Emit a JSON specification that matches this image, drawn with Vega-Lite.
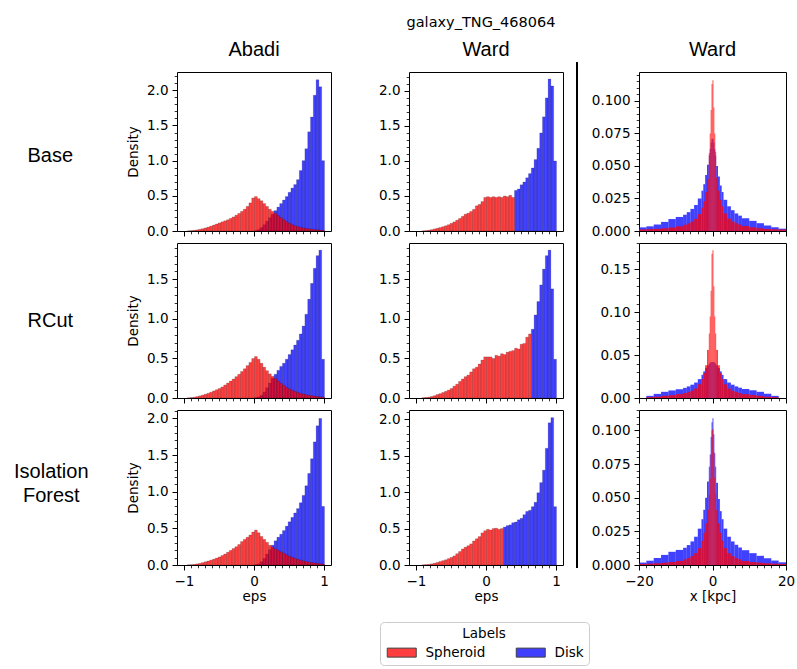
{
  "$schema": "https://vega.github.io/schema/vega-lite/v6.json",
  "background": "white",
  "padding": {"left": 13, "top": 15, "right": 0, "bottom": 0},
  "title": {"text": "galaxy_TNG_468064", "font": "DejaVu Sans", "fontSize": 14.5, "fontWeight": "normal", "color": "black", "anchor": "start", "align": "center", "frame": "group", "dx": 304, "offset": 9},
  "config": {
    "view": {"stroke": "black", "strokeWidth": 1},
    "axis": {"grid": false, "domain": false, "tickColor": "black", "tickSize": 5, "tickWidth": 1, "labelFont": "DejaVu Sans", "labelFontSize": 13.5, "labelColor": "black", "labelPadding": 4, "titleFont": "DejaVu Sans", "titleFontSize": 13.5, "titleFontWeight": "normal", "titleColor": "black", "labelFlush": false, "labelOverlap": false},
    "legend": {"orient": "none", "legendX": 203, "legendY": 550, "direction": "horizontal", "titleFont": "DejaVu Sans", "titleFontSize": 13.5, "titleFontWeight": "normal", "titleColor": "black", "titleAnchor": "middle", "titlePadding": 5, "labelFont": "DejaVu Sans", "labelFontSize": 13.5, "labelColor": "black", "labelOffset": 17, "symbolType": "M-3.22,-1H3.22V1H-3.22Z", "symbolSize": 81, "symbolOffset": 10, "symbolStrokeColor": "black", "symbolStrokeWidth": 1, "symbolOpacity": 0.75, "columnPadding": 28, "padding": 5, "strokeColor": "#cccccc", "fillColor": "white", "cornerRadius": 4}
  },
  "datasets": {
    "A1": [
      {"l":"Disk","e":0,"d":0.005},{"l":"Disk","e":0.04,"d":0.02},{"l":"Disk","e":0.08,"d":0.05},{"l":"Disk","e":0.12,"d":0.09},{"l":"Disk","e":0.16,"d":0.14},{"l":"Disk","e":0.2,"d":0.19},{"l":"Disk","e":0.24,"d":0.24},{"l":"Disk","e":0.28,"d":0.29},{"l":"Disk","e":0.32,"d":0.34},{"l":"Disk","e":0.36,"d":0.39},{"l":"Disk","e":0.4,"d":0.44},{"l":"Disk","e":0.44,"d":0.49},{"l":"Disk","e":0.48,"d":0.55},{"l":"Disk","e":0.52,"d":0.61},{"l":"Disk","e":0.56,"d":0.66},{"l":"Disk","e":0.6,"d":0.73},{"l":"Disk","e":0.64,"d":0.86},{"l":"Disk","e":0.68,"d":1.0},{"l":"Disk","e":0.72,"d":1.17},{"l":"Disk","e":0.76,"d":1.41},{"l":"Disk","e":0.8,"d":1.62},{"l":"Disk","e":0.84,"d":1.93},{"l":"Disk","e":0.88,"d":2.15},{"l":"Disk","e":0.92,"d":2.05},{"l":"Disk","e":0.96,"d":1.0},
      {"l":"Spheroid","e":-0.96,"d":0.003},{"l":"Spheroid","e":-0.92,"d":0.006},{"l":"Spheroid","e":-0.88,"d":0.01},{"l":"Spheroid","e":-0.84,"d":0.016},{"l":"Spheroid","e":-0.8,"d":0.024},{"l":"Spheroid","e":-0.76,"d":0.033},{"l":"Spheroid","e":-0.72,"d":0.044},{"l":"Spheroid","e":-0.68,"d":0.056},{"l":"Spheroid","e":-0.64,"d":0.07},{"l":"Spheroid","e":-0.6,"d":0.085},{"l":"Spheroid","e":-0.56,"d":0.1},{"l":"Spheroid","e":-0.52,"d":0.115},{"l":"Spheroid","e":-0.48,"d":0.13},{"l":"Spheroid","e":-0.44,"d":0.145},{"l":"Spheroid","e":-0.4,"d":0.16},{"l":"Spheroid","e":-0.36,"d":0.18},{"l":"Spheroid","e":-0.32,"d":0.2},{"l":"Spheroid","e":-0.28,"d":0.225},{"l":"Spheroid","e":-0.24,"d":0.25},{"l":"Spheroid","e":-0.2,"d":0.28},{"l":"Spheroid","e":-0.16,"d":0.31},{"l":"Spheroid","e":-0.12,"d":0.35},{"l":"Spheroid","e":-0.08,"d":0.4},{"l":"Spheroid","e":-0.04,"d":0.47},{"l":"Spheroid","e":0,"d":0.49},{"l":"Spheroid","e":0.04,"d":0.46},{"l":"Spheroid","e":0.08,"d":0.43},{"l":"Spheroid","e":0.12,"d":0.39},{"l":"Spheroid","e":0.16,"d":0.35},{"l":"Spheroid","e":0.2,"d":0.31},{"l":"Spheroid","e":0.24,"d":0.28},{"l":"Spheroid","e":0.28,"d":0.25},{"l":"Spheroid","e":0.32,"d":0.22},{"l":"Spheroid","e":0.36,"d":0.19},{"l":"Spheroid","e":0.4,"d":0.16},{"l":"Spheroid","e":0.44,"d":0.135},{"l":"Spheroid","e":0.48,"d":0.11},{"l":"Spheroid","e":0.52,"d":0.09},{"l":"Spheroid","e":0.56,"d":0.075},{"l":"Spheroid","e":0.6,"d":0.062},{"l":"Spheroid","e":0.64,"d":0.052},{"l":"Spheroid","e":0.68,"d":0.044},{"l":"Spheroid","e":0.72,"d":0.037},{"l":"Spheroid","e":0.76,"d":0.031},{"l":"Spheroid","e":0.8,"d":0.026},{"l":"Spheroid","e":0.84,"d":0.021},{"l":"Spheroid","e":0.88,"d":0.017},{"l":"Spheroid","e":0.92,"d":0.013},{"l":"Spheroid","e":0.96,"d":0.008}
    ],
    "A2": [
      {"l":"Disk","e":0,"d":0.005},{"l":"Disk","e":0.04,"d":0.015},{"l":"Disk","e":0.08,"d":0.035},{"l":"Disk","e":0.12,"d":0.075},{"l":"Disk","e":0.16,"d":0.13},{"l":"Disk","e":0.2,"d":0.19},{"l":"Disk","e":0.24,"d":0.25},{"l":"Disk","e":0.28,"d":0.3},{"l":"Disk","e":0.32,"d":0.35},{"l":"Disk","e":0.36,"d":0.4},{"l":"Disk","e":0.4,"d":0.44},{"l":"Disk","e":0.44,"d":0.49},{"l":"Disk","e":0.48,"d":0.55},{"l":"Disk","e":0.52,"d":0.61},{"l":"Disk","e":0.56,"d":0.67},{"l":"Disk","e":0.6,"d":0.73},{"l":"Disk","e":0.64,"d":0.81},{"l":"Disk","e":0.68,"d":0.91},{"l":"Disk","e":0.72,"d":1.06},{"l":"Disk","e":0.76,"d":1.25},{"l":"Disk","e":0.8,"d":1.45},{"l":"Disk","e":0.84,"d":1.64},{"l":"Disk","e":0.88,"d":1.8},{"l":"Disk","e":0.92,"d":1.87},{"l":"Disk","e":0.96,"d":0.49},
      {"l":"Spheroid","e":-0.96,"d":0.003},{"l":"Spheroid","e":-0.92,"d":0.006},{"l":"Spheroid","e":-0.88,"d":0.01},{"l":"Spheroid","e":-0.84,"d":0.018},{"l":"Spheroid","e":-0.8,"d":0.027},{"l":"Spheroid","e":-0.76,"d":0.037},{"l":"Spheroid","e":-0.72,"d":0.048},{"l":"Spheroid","e":-0.68,"d":0.06},{"l":"Spheroid","e":-0.64,"d":0.074},{"l":"Spheroid","e":-0.6,"d":0.09},{"l":"Spheroid","e":-0.56,"d":0.105},{"l":"Spheroid","e":-0.52,"d":0.12},{"l":"Spheroid","e":-0.48,"d":0.14},{"l":"Spheroid","e":-0.44,"d":0.165},{"l":"Spheroid","e":-0.4,"d":0.19},{"l":"Spheroid","e":-0.36,"d":0.215},{"l":"Spheroid","e":-0.32,"d":0.24},{"l":"Spheroid","e":-0.28,"d":0.27},{"l":"Spheroid","e":-0.24,"d":0.3},{"l":"Spheroid","e":-0.2,"d":0.335},{"l":"Spheroid","e":-0.16,"d":0.37},{"l":"Spheroid","e":-0.12,"d":0.41},{"l":"Spheroid","e":-0.08,"d":0.45},{"l":"Spheroid","e":-0.04,"d":0.5},{"l":"Spheroid","e":0,"d":0.525},{"l":"Spheroid","e":0.04,"d":0.49},{"l":"Spheroid","e":0.08,"d":0.44},{"l":"Spheroid","e":0.12,"d":0.39},{"l":"Spheroid","e":0.16,"d":0.345},{"l":"Spheroid","e":0.2,"d":0.305},{"l":"Spheroid","e":0.24,"d":0.275},{"l":"Spheroid","e":0.28,"d":0.245},{"l":"Spheroid","e":0.32,"d":0.215},{"l":"Spheroid","e":0.36,"d":0.185},{"l":"Spheroid","e":0.4,"d":0.16},{"l":"Spheroid","e":0.44,"d":0.135},{"l":"Spheroid","e":0.48,"d":0.115},{"l":"Spheroid","e":0.52,"d":0.098},{"l":"Spheroid","e":0.56,"d":0.083},{"l":"Spheroid","e":0.6,"d":0.07},{"l":"Spheroid","e":0.64,"d":0.06},{"l":"Spheroid","e":0.68,"d":0.05},{"l":"Spheroid","e":0.72,"d":0.042},{"l":"Spheroid","e":0.76,"d":0.035},{"l":"Spheroid","e":0.8,"d":0.029},{"l":"Spheroid","e":0.84,"d":0.024},{"l":"Spheroid","e":0.88,"d":0.019},{"l":"Spheroid","e":0.92,"d":0.015},{"l":"Spheroid","e":0.96,"d":0.01}
    ],
    "A3": [
      {"l":"Disk","e":0,"d":0.005},{"l":"Disk","e":0.04,"d":0.015},{"l":"Disk","e":0.08,"d":0.045},{"l":"Disk","e":0.12,"d":0.09},{"l":"Disk","e":0.16,"d":0.15},{"l":"Disk","e":0.2,"d":0.21},{"l":"Disk","e":0.24,"d":0.27},{"l":"Disk","e":0.28,"d":0.33},{"l":"Disk","e":0.32,"d":0.38},{"l":"Disk","e":0.36,"d":0.42},{"l":"Disk","e":0.4,"d":0.47},{"l":"Disk","e":0.44,"d":0.53},{"l":"Disk","e":0.48,"d":0.59},{"l":"Disk","e":0.52,"d":0.65},{"l":"Disk","e":0.56,"d":0.71},{"l":"Disk","e":0.6,"d":0.77},{"l":"Disk","e":0.64,"d":0.85},{"l":"Disk","e":0.68,"d":0.95},{"l":"Disk","e":0.72,"d":1.08},{"l":"Disk","e":0.76,"d":1.25},{"l":"Disk","e":0.8,"d":1.45},{"l":"Disk","e":0.84,"d":1.68},{"l":"Disk","e":0.88,"d":1.9},{"l":"Disk","e":0.92,"d":2.0},{"l":"Disk","e":0.96,"d":0.8},
      {"l":"Spheroid","e":-0.96,"d":0.003},{"l":"Spheroid","e":-0.92,"d":0.005},{"l":"Spheroid","e":-0.88,"d":0.009},{"l":"Spheroid","e":-0.84,"d":0.015},{"l":"Spheroid","e":-0.8,"d":0.022},{"l":"Spheroid","e":-0.76,"d":0.032},{"l":"Spheroid","e":-0.72,"d":0.044},{"l":"Spheroid","e":-0.68,"d":0.055},{"l":"Spheroid","e":-0.64,"d":0.067},{"l":"Spheroid","e":-0.6,"d":0.08},{"l":"Spheroid","e":-0.56,"d":0.095},{"l":"Spheroid","e":-0.52,"d":0.11},{"l":"Spheroid","e":-0.48,"d":0.13},{"l":"Spheroid","e":-0.44,"d":0.15},{"l":"Spheroid","e":-0.4,"d":0.175},{"l":"Spheroid","e":-0.36,"d":0.2},{"l":"Spheroid","e":-0.32,"d":0.225},{"l":"Spheroid","e":-0.28,"d":0.25},{"l":"Spheroid","e":-0.24,"d":0.28},{"l":"Spheroid","e":-0.2,"d":0.32},{"l":"Spheroid","e":-0.16,"d":0.35},{"l":"Spheroid","e":-0.12,"d":0.38},{"l":"Spheroid","e":-0.08,"d":0.41},{"l":"Spheroid","e":-0.04,"d":0.45},{"l":"Spheroid","e":0,"d":0.477},{"l":"Spheroid","e":0.04,"d":0.44},{"l":"Spheroid","e":0.08,"d":0.39},{"l":"Spheroid","e":0.12,"d":0.35},{"l":"Spheroid","e":0.16,"d":0.31},{"l":"Spheroid","e":0.2,"d":0.27},{"l":"Spheroid","e":0.24,"d":0.245},{"l":"Spheroid","e":0.28,"d":0.22},{"l":"Spheroid","e":0.32,"d":0.2},{"l":"Spheroid","e":0.36,"d":0.18},{"l":"Spheroid","e":0.4,"d":0.16},{"l":"Spheroid","e":0.44,"d":0.14},{"l":"Spheroid","e":0.48,"d":0.12},{"l":"Spheroid","e":0.52,"d":0.105},{"l":"Spheroid","e":0.56,"d":0.09},{"l":"Spheroid","e":0.6,"d":0.077},{"l":"Spheroid","e":0.64,"d":0.066},{"l":"Spheroid","e":0.68,"d":0.056},{"l":"Spheroid","e":0.72,"d":0.047},{"l":"Spheroid","e":0.76,"d":0.04},{"l":"Spheroid","e":0.8,"d":0.034},{"l":"Spheroid","e":0.84,"d":0.028},{"l":"Spheroid","e":0.88,"d":0.023},{"l":"Spheroid","e":0.92,"d":0.018},{"l":"Spheroid","e":0.96,"d":0.012}
    ],
    "W1": [
      {"l":"Disk","e":0.4,"d":0.58},{"l":"Disk","e":0.44,"d":0.6},{"l":"Disk","e":0.48,"d":0.66},{"l":"Disk","e":0.52,"d":0.7},{"l":"Disk","e":0.56,"d":0.76},{"l":"Disk","e":0.6,"d":0.82},{"l":"Disk","e":0.64,"d":0.9},{"l":"Disk","e":0.68,"d":1.02},{"l":"Disk","e":0.72,"d":1.18},{"l":"Disk","e":0.76,"d":1.4},{"l":"Disk","e":0.8,"d":1.63},{"l":"Disk","e":0.84,"d":1.9},{"l":"Disk","e":0.88,"d":2.17},{"l":"Disk","e":0.92,"d":2.07},{"l":"Disk","e":0.96,"d":1.0},
      {"l":"Spheroid","e":-0.92,"d":0.003},{"l":"Spheroid","e":-0.88,"d":0.006},{"l":"Spheroid","e":-0.84,"d":0.012},{"l":"Spheroid","e":-0.8,"d":0.02},{"l":"Spheroid","e":-0.76,"d":0.03},{"l":"Spheroid","e":-0.72,"d":0.04},{"l":"Spheroid","e":-0.68,"d":0.05},{"l":"Spheroid","e":-0.64,"d":0.062},{"l":"Spheroid","e":-0.6,"d":0.075},{"l":"Spheroid","e":-0.56,"d":0.09},{"l":"Spheroid","e":-0.52,"d":0.11},{"l":"Spheroid","e":-0.48,"d":0.13},{"l":"Spheroid","e":-0.44,"d":0.155},{"l":"Spheroid","e":-0.4,"d":0.18},{"l":"Spheroid","e":-0.36,"d":0.21},{"l":"Spheroid","e":-0.32,"d":0.24},{"l":"Spheroid","e":-0.28,"d":0.255},{"l":"Spheroid","e":-0.24,"d":0.28},{"l":"Spheroid","e":-0.2,"d":0.31},{"l":"Spheroid","e":-0.16,"d":0.36},{"l":"Spheroid","e":-0.12,"d":0.38},{"l":"Spheroid","e":-0.08,"d":0.42},{"l":"Spheroid","e":-0.04,"d":0.48},{"l":"Spheroid","e":0,"d":0.49},{"l":"Spheroid","e":0.04,"d":0.48},{"l":"Spheroid","e":0.08,"d":0.49},{"l":"Spheroid","e":0.12,"d":0.48},{"l":"Spheroid","e":0.16,"d":0.49},{"l":"Spheroid","e":0.2,"d":0.48},{"l":"Spheroid","e":0.24,"d":0.5},{"l":"Spheroid","e":0.28,"d":0.49},{"l":"Spheroid","e":0.32,"d":0.51},{"l":"Spheroid","e":0.36,"d":0.48}
    ],
    "W2": [
      {"l":"Disk","e":0.64,"d":0.87},{"l":"Disk","e":0.68,"d":1.05},{"l":"Disk","e":0.72,"d":1.22},{"l":"Disk","e":0.76,"d":1.43},{"l":"Disk","e":0.8,"d":1.63},{"l":"Disk","e":0.84,"d":1.8},{"l":"Disk","e":0.88,"d":1.87},{"l":"Disk","e":0.92,"d":1.38},{"l":"Disk","e":0.96,"d":0.49},
      {"l":"Spheroid","e":-0.92,"d":0.004},{"l":"Spheroid","e":-0.88,"d":0.008},{"l":"Spheroid","e":-0.84,"d":0.012},{"l":"Spheroid","e":-0.8,"d":0.02},{"l":"Spheroid","e":-0.76,"d":0.03},{"l":"Spheroid","e":-0.72,"d":0.045},{"l":"Spheroid","e":-0.68,"d":0.055},{"l":"Spheroid","e":-0.64,"d":0.07},{"l":"Spheroid","e":-0.6,"d":0.085},{"l":"Spheroid","e":-0.56,"d":0.1},{"l":"Spheroid","e":-0.52,"d":0.12},{"l":"Spheroid","e":-0.48,"d":0.15},{"l":"Spheroid","e":-0.44,"d":0.175},{"l":"Spheroid","e":-0.4,"d":0.21},{"l":"Spheroid","e":-0.36,"d":0.24},{"l":"Spheroid","e":-0.32,"d":0.27},{"l":"Spheroid","e":-0.28,"d":0.29},{"l":"Spheroid","e":-0.24,"d":0.33},{"l":"Spheroid","e":-0.2,"d":0.37},{"l":"Spheroid","e":-0.16,"d":0.39},{"l":"Spheroid","e":-0.12,"d":0.43},{"l":"Spheroid","e":-0.08,"d":0.48},{"l":"Spheroid","e":-0.04,"d":0.52},{"l":"Spheroid","e":0,"d":0.52},{"l":"Spheroid","e":0.04,"d":0.52},{"l":"Spheroid","e":0.08,"d":0.5},{"l":"Spheroid","e":0.12,"d":0.54},{"l":"Spheroid","e":0.16,"d":0.53},{"l":"Spheroid","e":0.2,"d":0.56},{"l":"Spheroid","e":0.24,"d":0.55},{"l":"Spheroid","e":0.28,"d":0.58},{"l":"Spheroid","e":0.32,"d":0.59},{"l":"Spheroid","e":0.36,"d":0.6},{"l":"Spheroid","e":0.4,"d":0.63},{"l":"Spheroid","e":0.44,"d":0.62},{"l":"Spheroid","e":0.48,"d":0.68},{"l":"Spheroid","e":0.52,"d":0.69},{"l":"Spheroid","e":0.56,"d":0.77},{"l":"Spheroid","e":0.6,"d":0.81}
    ],
    "W3": [
      {"l":"Disk","e":0.24,"d":0.52},{"l":"Disk","e":0.28,"d":0.54},{"l":"Disk","e":0.32,"d":0.55},{"l":"Disk","e":0.36,"d":0.58},{"l":"Disk","e":0.4,"d":0.59},{"l":"Disk","e":0.44,"d":0.62},{"l":"Disk","e":0.48,"d":0.64},{"l":"Disk","e":0.52,"d":0.69},{"l":"Disk","e":0.56,"d":0.735},{"l":"Disk","e":0.6,"d":0.75},{"l":"Disk","e":0.64,"d":0.8},{"l":"Disk","e":0.68,"d":0.86},{"l":"Disk","e":0.72,"d":0.99},{"l":"Disk","e":0.76,"d":1.13},{"l":"Disk","e":0.8,"d":1.3},{"l":"Disk","e":0.84,"d":1.6},{"l":"Disk","e":0.88,"d":1.95},{"l":"Disk","e":0.92,"d":2.02},{"l":"Disk","e":0.96,"d":0.8},
      {"l":"Spheroid","e":-0.92,"d":0.003},{"l":"Spheroid","e":-0.88,"d":0.006},{"l":"Spheroid","e":-0.84,"d":0.01},{"l":"Spheroid","e":-0.8,"d":0.016},{"l":"Spheroid","e":-0.76,"d":0.025},{"l":"Spheroid","e":-0.72,"d":0.036},{"l":"Spheroid","e":-0.68,"d":0.048},{"l":"Spheroid","e":-0.64,"d":0.06},{"l":"Spheroid","e":-0.6,"d":0.072},{"l":"Spheroid","e":-0.56,"d":0.088},{"l":"Spheroid","e":-0.52,"d":0.105},{"l":"Spheroid","e":-0.48,"d":0.125},{"l":"Spheroid","e":-0.44,"d":0.155},{"l":"Spheroid","e":-0.4,"d":0.185},{"l":"Spheroid","e":-0.36,"d":0.22},{"l":"Spheroid","e":-0.32,"d":0.245},{"l":"Spheroid","e":-0.28,"d":0.265},{"l":"Spheroid","e":-0.24,"d":0.29},{"l":"Spheroid","e":-0.2,"d":0.33},{"l":"Spheroid","e":-0.16,"d":0.36},{"l":"Spheroid","e":-0.12,"d":0.39},{"l":"Spheroid","e":-0.08,"d":0.44},{"l":"Spheroid","e":-0.04,"d":0.47},{"l":"Spheroid","e":0,"d":0.49},{"l":"Spheroid","e":0.04,"d":0.48},{"l":"Spheroid","e":0.08,"d":0.5},{"l":"Spheroid","e":0.12,"d":0.505},{"l":"Spheroid","e":0.16,"d":0.49},{"l":"Spheroid","e":0.2,"d":0.5}
    ],
    "X1": [
      {"l":"Disk","a":-20,"b":-18,"d":0.0028},{"l":"Disk","a":-18,"b":-16,"d":0.0036},{"l":"Disk","a":-16,"b":-14,"d":0.005},{"l":"Disk","a":-14,"b":-12,"d":0.007},{"l":"Disk","a":-12,"b":-10,"d":0.0092},{"l":"Disk","a":-10,"b":-8,"d":0.0108},{"l":"Disk","a":-8,"b":-7,"d":0.0125},{"l":"Disk","a":-7,"b":-6,"d":0.0145},{"l":"Disk","a":-6,"b":-5,"d":0.017},{"l":"Disk","a":-5,"b":-4,"d":0.02},{"l":"Disk","a":-4,"b":-3,"d":0.025},{"l":"Disk","a":-3,"b":-2.5,"d":0.031},{"l":"Disk","a":-2.5,"b":-2,"d":0.036},{"l":"Disk","a":-2,"b":-1.5,"d":0.043},{"l":"Disk","a":-1.5,"b":-1,"d":0.051},{"l":"Disk","a":-1,"b":-0.75,"d":0.058},{"l":"Disk","a":-0.75,"b":-0.5,"d":0.063},{"l":"Disk","a":-0.5,"b":-0.25,"d":0.068},{"l":"Disk","a":-0.25,"b":0,"d":0.071},{"l":"Disk","a":0,"b":0.25,"d":0.071},{"l":"Disk","a":0.25,"b":0.5,"d":0.068},{"l":"Disk","a":0.5,"b":0.75,"d":0.063},{"l":"Disk","a":0.75,"b":1,"d":0.058},{"l":"Disk","a":1,"b":1.5,"d":0.05},{"l":"Disk","a":1.5,"b":2,"d":0.042},{"l":"Disk","a":2,"b":2.5,"d":0.035},{"l":"Disk","a":2.5,"b":3,"d":0.03},{"l":"Disk","a":3,"b":4,"d":0.024},{"l":"Disk","a":4,"b":5,"d":0.019},{"l":"Disk","a":5,"b":6,"d":0.016},{"l":"Disk","a":6,"b":7,"d":0.0135},{"l":"Disk","a":7,"b":8,"d":0.0118},{"l":"Disk","a":8,"b":10,"d":0.0098},{"l":"Disk","a":10,"b":12,"d":0.0078},{"l":"Disk","a":12,"b":14,"d":0.006},{"l":"Disk","a":14,"b":16,"d":0.0043},{"l":"Disk","a":16,"b":18,"d":0.0029},{"l":"Disk","a":18,"b":20,"d":0.0018},
      {"l":"Spheroid","a":-20,"b":-18,"d":0.0012},{"l":"Spheroid","a":-18,"b":-16,"d":0.0014},{"l":"Spheroid","a":-16,"b":-14,"d":0.0017},{"l":"Spheroid","a":-14,"b":-12,"d":0.0021},{"l":"Spheroid","a":-12,"b":-10,"d":0.0027},{"l":"Spheroid","a":-10,"b":-8,"d":0.0036},{"l":"Spheroid","a":-8,"b":-7,"d":0.0048},{"l":"Spheroid","a":-7,"b":-6,"d":0.0058},{"l":"Spheroid","a":-6,"b":-5,"d":0.0072},{"l":"Spheroid","a":-5,"b":-4,"d":0.0093},{"l":"Spheroid","a":-4,"b":-3,"d":0.013},{"l":"Spheroid","a":-3,"b":-2.5,"d":0.018},{"l":"Spheroid","a":-2.5,"b":-2,"d":0.023},{"l":"Spheroid","a":-2,"b":-1.5,"d":0.03},{"l":"Spheroid","a":-1.5,"b":-1,"d":0.04},{"l":"Spheroid","a":-1,"b":-0.75,"d":0.06},{"l":"Spheroid","a":-0.75,"b":-0.5,"d":0.075},{"l":"Spheroid","a":-0.5,"b":-0.25,"d":0.093},{"l":"Spheroid","a":-0.25,"b":0,"d":0.113},{"l":"Spheroid","a":0,"b":0.25,"d":0.116},{"l":"Spheroid","a":0.25,"b":0.5,"d":0.095},{"l":"Spheroid","a":0.5,"b":0.75,"d":0.075},{"l":"Spheroid","a":0.75,"b":1,"d":0.061},{"l":"Spheroid","a":1,"b":1.5,"d":0.041},{"l":"Spheroid","a":1.5,"b":2,"d":0.031},{"l":"Spheroid","a":2,"b":2.5,"d":0.024},{"l":"Spheroid","a":2.5,"b":3,"d":0.019},{"l":"Spheroid","a":3,"b":4,"d":0.0135},{"l":"Spheroid","a":4,"b":5,"d":0.0095},{"l":"Spheroid","a":5,"b":6,"d":0.0073},{"l":"Spheroid","a":6,"b":7,"d":0.006},{"l":"Spheroid","a":7,"b":8,"d":0.005},{"l":"Spheroid","a":8,"b":10,"d":0.0038},{"l":"Spheroid","a":10,"b":12,"d":0.0028},{"l":"Spheroid","a":12,"b":14,"d":0.0021},{"l":"Spheroid","a":14,"b":16,"d":0.0016},{"l":"Spheroid","a":16,"b":18,"d":0.0013},{"l":"Spheroid","a":18,"b":20,"d":0.0011}
    ],
    "X2": [
      {"l":"Disk","a":-18,"b":-16,"d":0.0025},{"l":"Disk","a":-16,"b":-14,"d":0.0048},{"l":"Disk","a":-14,"b":-12,"d":0.0072},{"l":"Disk","a":-12,"b":-10,"d":0.0088},{"l":"Disk","a":-10,"b":-8,"d":0.0102},{"l":"Disk","a":-8,"b":-7,"d":0.0118},{"l":"Disk","a":-7,"b":-6,"d":0.0135},{"l":"Disk","a":-6,"b":-5,"d":0.0155},{"l":"Disk","a":-5,"b":-4,"d":0.018},{"l":"Disk","a":-4,"b":-3,"d":0.022},{"l":"Disk","a":-3,"b":-2.5,"d":0.027},{"l":"Disk","a":-2.5,"b":-2,"d":0.031},{"l":"Disk","a":-2,"b":-1.5,"d":0.035},{"l":"Disk","a":-1.5,"b":-1,"d":0.038},{"l":"Disk","a":-1,"b":-0.75,"d":0.04},{"l":"Disk","a":-0.75,"b":-0.5,"d":0.041},{"l":"Disk","a":-0.5,"b":-0.25,"d":0.042},{"l":"Disk","a":-0.25,"b":0,"d":0.042},{"l":"Disk","a":0,"b":0.25,"d":0.042},{"l":"Disk","a":0.25,"b":0.5,"d":0.042},{"l":"Disk","a":0.5,"b":0.75,"d":0.041},{"l":"Disk","a":0.75,"b":1,"d":0.04},{"l":"Disk","a":1,"b":1.5,"d":0.038},{"l":"Disk","a":1.5,"b":2,"d":0.035},{"l":"Disk","a":2,"b":2.5,"d":0.031},{"l":"Disk","a":2.5,"b":3,"d":0.027},{"l":"Disk","a":3,"b":4,"d":0.022},{"l":"Disk","a":4,"b":5,"d":0.018},{"l":"Disk","a":5,"b":6,"d":0.0155},{"l":"Disk","a":6,"b":7,"d":0.0135},{"l":"Disk","a":7,"b":8,"d":0.012},{"l":"Disk","a":8,"b":10,"d":0.0105},{"l":"Disk","a":10,"b":12,"d":0.009},{"l":"Disk","a":12,"b":14,"d":0.0072},{"l":"Disk","a":14,"b":16,"d":0.005},{"l":"Disk","a":16,"b":18,"d":0.0025},
      {"l":"Spheroid","a":-18,"b":-16,"d":0.001},{"l":"Spheroid","a":-16,"b":-14,"d":0.0015},{"l":"Spheroid","a":-14,"b":-12,"d":0.0025},{"l":"Spheroid","a":-12,"b":-10,"d":0.0033},{"l":"Spheroid","a":-10,"b":-8,"d":0.0045},{"l":"Spheroid","a":-8,"b":-7,"d":0.0058},{"l":"Spheroid","a":-7,"b":-6,"d":0.007},{"l":"Spheroid","a":-6,"b":-5,"d":0.0085},{"l":"Spheroid","a":-5,"b":-4,"d":0.011},{"l":"Spheroid","a":-4,"b":-3,"d":0.016},{"l":"Spheroid","a":-3,"b":-2.5,"d":0.022},{"l":"Spheroid","a":-2.5,"b":-2,"d":0.029},{"l":"Spheroid","a":-2,"b":-1.5,"d":0.038},{"l":"Spheroid","a":-1.5,"b":-1,"d":0.056},{"l":"Spheroid","a":-1,"b":-0.75,"d":0.075},{"l":"Spheroid","a":-0.75,"b":-0.5,"d":0.095},{"l":"Spheroid","a":-0.5,"b":-0.25,"d":0.125},{"l":"Spheroid","a":-0.25,"b":0,"d":0.168},{"l":"Spheroid","a":0,"b":0.25,"d":0.172},{"l":"Spheroid","a":0.25,"b":0.5,"d":0.13},{"l":"Spheroid","a":0.5,"b":0.75,"d":0.095},{"l":"Spheroid","a":0.75,"b":1,"d":0.075},{"l":"Spheroid","a":1,"b":1.5,"d":0.056},{"l":"Spheroid","a":1.5,"b":2,"d":0.038},{"l":"Spheroid","a":2,"b":2.5,"d":0.029},{"l":"Spheroid","a":2.5,"b":3,"d":0.022},{"l":"Spheroid","a":3,"b":4,"d":0.016},{"l":"Spheroid","a":4,"b":5,"d":0.011},{"l":"Spheroid","a":5,"b":6,"d":0.0085},{"l":"Spheroid","a":6,"b":7,"d":0.007},{"l":"Spheroid","a":7,"b":8,"d":0.0058},{"l":"Spheroid","a":8,"b":10,"d":0.0045},{"l":"Spheroid","a":10,"b":12,"d":0.0034},{"l":"Spheroid","a":12,"b":14,"d":0.0025},{"l":"Spheroid","a":14,"b":16,"d":0.0016},{"l":"Spheroid","a":16,"b":18,"d":0.001}
    ],
    "X3": [
      {"l":"Disk","a":-20,"b":-18,"d":0.0018},{"l":"Disk","a":-18,"b":-16,"d":0.0032},{"l":"Disk","a":-16,"b":-14,"d":0.0052},{"l":"Disk","a":-14,"b":-12,"d":0.0075},{"l":"Disk","a":-12,"b":-10,"d":0.0098},{"l":"Disk","a":-10,"b":-8,"d":0.0112},{"l":"Disk","a":-8,"b":-7,"d":0.0128},{"l":"Disk","a":-7,"b":-6,"d":0.0148},{"l":"Disk","a":-6,"b":-5,"d":0.0175},{"l":"Disk","a":-5,"b":-4,"d":0.021},{"l":"Disk","a":-4,"b":-3,"d":0.027},{"l":"Disk","a":-3,"b":-2.5,"d":0.034},{"l":"Disk","a":-2.5,"b":-2,"d":0.041},{"l":"Disk","a":-2,"b":-1.5,"d":0.05},{"l":"Disk","a":-1.5,"b":-1,"d":0.062},{"l":"Disk","a":-1,"b":-0.75,"d":0.073},{"l":"Disk","a":-0.75,"b":-0.5,"d":0.082},{"l":"Disk","a":-0.5,"b":-0.25,"d":0.095},{"l":"Disk","a":-0.25,"b":0,"d":0.106},{"l":"Disk","a":0,"b":0.25,"d":0.109},{"l":"Disk","a":0.25,"b":0.5,"d":0.097},{"l":"Disk","a":0.5,"b":0.75,"d":0.083},{"l":"Disk","a":0.75,"b":1,"d":0.073},{"l":"Disk","a":1,"b":1.5,"d":0.061},{"l":"Disk","a":1.5,"b":2,"d":0.049},{"l":"Disk","a":2,"b":2.5,"d":0.04},{"l":"Disk","a":2.5,"b":3,"d":0.034},{"l":"Disk","a":3,"b":4,"d":0.027},{"l":"Disk","a":4,"b":5,"d":0.021},{"l":"Disk","a":5,"b":6,"d":0.0175},{"l":"Disk","a":6,"b":7,"d":0.015},{"l":"Disk","a":7,"b":8,"d":0.013},{"l":"Disk","a":8,"b":10,"d":0.011},{"l":"Disk","a":10,"b":12,"d":0.0088},{"l":"Disk","a":12,"b":14,"d":0.0068},{"l":"Disk","a":14,"b":16,"d":0.005},{"l":"Disk","a":16,"b":18,"d":0.0033},{"l":"Disk","a":18,"b":20,"d":0.002},
      {"l":"Spheroid","a":-20,"b":-18,"d":0.0008},{"l":"Spheroid","a":-18,"b":-16,"d":0.001},{"l":"Spheroid","a":-16,"b":-14,"d":0.0013},{"l":"Spheroid","a":-14,"b":-12,"d":0.0017},{"l":"Spheroid","a":-12,"b":-10,"d":0.0022},{"l":"Spheroid","a":-10,"b":-8,"d":0.003},{"l":"Spheroid","a":-8,"b":-7,"d":0.0042},{"l":"Spheroid","a":-7,"b":-6,"d":0.0052},{"l":"Spheroid","a":-6,"b":-5,"d":0.0066},{"l":"Spheroid","a":-5,"b":-4,"d":0.0088},{"l":"Spheroid","a":-4,"b":-3,"d":0.0125},{"l":"Spheroid","a":-3,"b":-2.5,"d":0.018},{"l":"Spheroid","a":-2.5,"b":-2,"d":0.024},{"l":"Spheroid","a":-2,"b":-1.5,"d":0.031},{"l":"Spheroid","a":-1.5,"b":-1,"d":0.041},{"l":"Spheroid","a":-1,"b":-0.75,"d":0.052},{"l":"Spheroid","a":-0.75,"b":-0.5,"d":0.064},{"l":"Spheroid","a":-0.5,"b":-0.25,"d":0.082},{"l":"Spheroid","a":-0.25,"b":0,"d":0.1},{"l":"Spheroid","a":0,"b":0.25,"d":0.101},{"l":"Spheroid","a":0.25,"b":0.5,"d":0.084},{"l":"Spheroid","a":0.5,"b":0.75,"d":0.065},{"l":"Spheroid","a":0.75,"b":1,"d":0.053},{"l":"Spheroid","a":1,"b":1.5,"d":0.041},{"l":"Spheroid","a":1.5,"b":2,"d":0.031},{"l":"Spheroid","a":2,"b":2.5,"d":0.024},{"l":"Spheroid","a":2.5,"b":3,"d":0.018},{"l":"Spheroid","a":3,"b":4,"d":0.0125},{"l":"Spheroid","a":4,"b":5,"d":0.0088},{"l":"Spheroid","a":5,"b":6,"d":0.0066},{"l":"Spheroid","a":6,"b":7,"d":0.0052},{"l":"Spheroid","a":7,"b":8,"d":0.0042},{"l":"Spheroid","a":8,"b":10,"d":0.003},{"l":"Spheroid","a":10,"b":12,"d":0.0022},{"l":"Spheroid","a":12,"b":14,"d":0.0017},{"l":"Spheroid","a":14,"b":16,"d":0.0013},{"l":"Spheroid","a":16,"b":18,"d":0.001},{"l":"Spheroid","a":18,"b":20,"d":0.0008}
    ]
  },
  "spacing": 12,
  "hconcat": [
    {
      "spacing": 46,
      "hconcat": [
        {
          "spacing": 4,
          "vconcat": [
            {
              "width": 154, "height": 159, "data": {"name": "A1"},
              "title": {"text": "Abadi", "font": "Liberation Sans", "fontSize": 20, "fontWeight": "normal", "color": "black", "offset": 12, "anchor": "middle", "frame": "group"},
              "layer": [
                {"mark": {"type": "bar", "binSpacing": 0, "fillOpacity": 0.75, "stroke": "black", "strokeOpacity": 0.25, "strokeWidth": 0.6},
                 "encoding": {
                   "x": {"field": "e", "type": "quantitative", "bin": {"binned": true, "step": 0.04}, "scale": {"domain": [-1.1, 1.1], "nice": false, "zero": false}, "axis": {"orient": "bottom", "values": [-1, 0, 1], "labels": false, "title": null}},
                   "y": {"field": "d", "type": "quantitative", "stack": null, "scale": {"domain": [0, 2.26], "nice": false, "zero": false}, "axis": {"orient": "left", "values": [0, 0.5, 1, 1.5, 2], "format": ".1f", "title": "Density", "titlePadding": 6}},
                   "color": {"field": "l", "type": "nominal", "title": "Labels", "scale": {"domain": ["Spheroid", "Disk"], "range": ["#ff0000", "#0000ff"]}}
                 }},
                {"mark": {"type": "point", "opacity": 0},
                 "encoding": {
                   "x": {"field": "e", "type": "quantitative", "scale": {"domain": [-1.1, 1.1], "nice": false, "zero": false}, "axis": {"orient": "bottom", "values": [-1,-0.9,-0.8,-0.7,-0.6,-0.5,-0.4,-0.3,-0.2,-0.1,0,0.1,0.2,0.3,0.4,0.5,0.6,0.7,0.8,0.9,1], "labels": false, "title": null, "tickSize": 2.8, "tickWidth": 0.8}},
                   "y": {"field": "d", "type": "quantitative", "scale": {"domain": [0, 2.26], "nice": false, "zero": false}, "axis": {"orient": "left", "values": [0,0.1,0.2,0.3,0.4,0.5,0.6,0.7,0.8,0.9,1,1.1,1.2,1.3,1.4,1.5,1.6,1.7,1.8,1.9,2,2.1,2.2], "labels": false, "tickSize": 2.8, "tickWidth": 0.8, "title": "Base", "titleAngle": 0, "titleAlign": "center", "titleBaseline": "middle", "titleY": 83, "titlePadding": 124, "titleFont": "Liberation Sans", "titleFontSize": 20}}
                 }}
              ],
              "resolve": {"axis": {"x": "independent", "y": "independent"}}
            },
            {
              "width": 154, "height": 155, "data": {"name": "A2"},
              "layer": [
                {"mark": {"type": "bar", "binSpacing": 0, "fillOpacity": 0.75, "stroke": "black", "strokeOpacity": 0.25, "strokeWidth": 0.6},
                 "encoding": {
                   "x": {"field": "e", "type": "quantitative", "bin": {"binned": true, "step": 0.04}, "scale": {"domain": [-1.1, 1.1], "nice": false, "zero": false}, "axis": {"orient": "bottom", "values": [-1, 0, 1], "labels": false, "title": null}},
                   "y": {"field": "d", "type": "quantitative", "stack": null, "scale": {"domain": [0, 1.96], "nice": false, "zero": false}, "axis": {"orient": "left", "values": [0, 0.5, 1, 1.5], "format": ".1f", "title": "Density", "titlePadding": 6}},
                   "color": {"field": "l", "type": "nominal", "title": "Labels", "scale": {"domain": ["Spheroid", "Disk"], "range": ["#ff0000", "#0000ff"]}}
                 }},
                {"mark": {"type": "point", "opacity": 0},
                 "encoding": {
                   "x": {"field": "e", "type": "quantitative", "scale": {"domain": [-1.1, 1.1], "nice": false, "zero": false}, "axis": {"orient": "bottom", "values": [-1,-0.9,-0.8,-0.7,-0.6,-0.5,-0.4,-0.3,-0.2,-0.1,0,0.1,0.2,0.3,0.4,0.5,0.6,0.7,0.8,0.9,1], "labels": false, "title": null, "tickSize": 2.8, "tickWidth": 0.8}},
                   "y": {"field": "d", "type": "quantitative", "scale": {"domain": [0, 1.96], "nice": false, "zero": false}, "axis": {"orient": "left", "values": [0,0.1,0.2,0.3,0.4,0.5,0.6,0.7,0.8,0.9,1,1.1,1.2,1.3,1.4,1.5,1.6,1.7,1.8,1.9], "labels": false, "tickSize": 2.8, "tickWidth": 0.8, "title": "RCut", "titleAngle": 0, "titleAlign": "center", "titleBaseline": "middle", "titlePadding": 124, "titleFont": "Liberation Sans", "titleFontSize": 20}}
                 }}
              ],
              "resolve": {"axis": {"x": "independent", "y": "independent"}}
            },
            {
              "width": 154, "height": 155, "data": {"name": "A3"},
              "layer": [
                {"mark": {"type": "bar", "binSpacing": 0, "fillOpacity": 0.75, "stroke": "black", "strokeOpacity": 0.25, "strokeWidth": 0.6},
                 "encoding": {
                   "x": {"field": "e", "type": "quantitative", "bin": {"binned": true, "step": 0.04}, "scale": {"domain": [-1.1, 1.1], "nice": false, "zero": false}, "axis": {"orient": "bottom", "values": [-1, 0, 1], "labelExpr": "replace(format(datum.value, 'd'), '-', '−')", "title": "eps", "titlePadding": 2}},
                   "y": {"field": "d", "type": "quantitative", "stack": null, "scale": {"domain": [0, 2.115], "nice": false, "zero": false}, "axis": {"orient": "left", "values": [0, 0.5, 1, 1.5, 2], "format": ".1f", "title": "Density", "titlePadding": 6}},
                   "color": {"field": "l", "type": "nominal", "title": "Labels", "scale": {"domain": ["Spheroid", "Disk"], "range": ["#ff0000", "#0000ff"]}}
                 }},
                {"mark": {"type": "point", "opacity": 0},
                 "encoding": {
                   "x": {"field": "e", "type": "quantitative", "scale": {"domain": [-1.1, 1.1], "nice": false, "zero": false}, "axis": {"orient": "bottom", "values": [-1,-0.9,-0.8,-0.7,-0.6,-0.5,-0.4,-0.3,-0.2,-0.1,0,0.1,0.2,0.3,0.4,0.5,0.6,0.7,0.8,0.9,1], "labels": false, "title": null, "tickSize": 2.8, "tickWidth": 0.8}},
                   "y": {"field": "d", "type": "quantitative", "scale": {"domain": [0, 2.115], "nice": false, "zero": false}, "axis": {"orient": "left", "values": [0,0.1,0.2,0.3,0.4,0.5,0.6,0.7,0.8,0.9,1,1.1,1.2,1.3,1.4,1.5,1.6,1.7,1.8,1.9,2,2.1], "labels": false, "tickSize": 2.8, "tickWidth": 0.8, "title": ["Isolation", "Forest"], "titleLineHeight": 24, "titleAngle": 0, "titleAlign": "center", "titleBaseline": "middle", "titleY": 61.5, "titlePadding": 99, "titleFont": "Liberation Sans", "titleFontSize": 20}}
                 }}
              ],
              "resolve": {"axis": {"x": "independent", "y": "independent"}}
            }
          ]
        },
        {
          "spacing": 4,
          "vconcat": [
            {
              "width": 154, "height": 159, "data": {"name": "W1"},
              "title": {"text": "Ward", "font": "Liberation Sans", "fontSize": 20, "fontWeight": "normal", "color": "black", "offset": 12, "anchor": "middle", "frame": "group"},
              "layer": [
                {"mark": {"type": "bar", "binSpacing": 0, "fillOpacity": 0.75, "stroke": "black", "strokeOpacity": 0.25, "strokeWidth": 0.6},
                 "encoding": {
                   "x": {"field": "e", "type": "quantitative", "bin": {"binned": true, "step": 0.04}, "scale": {"domain": [-1.1, 1.1], "nice": false, "zero": false}, "axis": {"orient": "bottom", "values": [-1, 0, 1], "labels": false, "title": null}},
                   "y": {"field": "d", "type": "quantitative", "stack": null, "scale": {"domain": [0, 2.27], "nice": false, "zero": false}, "axis": {"orient": "left", "values": [0, 0.5, 1, 1.5, 2], "format": ".1f", "title": null}},
                   "color": {"field": "l", "type": "nominal", "title": "Labels", "scale": {"domain": ["Spheroid", "Disk"], "range": ["#ff0000", "#0000ff"]}}
                 }},
                {"mark": {"type": "point", "opacity": 0},
                 "encoding": {
                   "x": {"field": "e", "type": "quantitative", "scale": {"domain": [-1.1, 1.1], "nice": false, "zero": false}, "axis": {"orient": "bottom", "values": [-1,-0.9,-0.8,-0.7,-0.6,-0.5,-0.4,-0.3,-0.2,-0.1,0,0.1,0.2,0.3,0.4,0.5,0.6,0.7,0.8,0.9,1], "labels": false, "title": null, "tickSize": 2.8, "tickWidth": 0.8}},
                   "y": {"field": "d", "type": "quantitative", "scale": {"domain": [0, 2.27], "nice": false, "zero": false}, "axis": {"orient": "left", "values": [0,0.1,0.2,0.3,0.4,0.5,0.6,0.7,0.8,0.9,1,1.1,1.2,1.3,1.4,1.5,1.6,1.7,1.8,1.9,2,2.1,2.2], "labels": false, "tickSize": 2.8, "tickWidth": 0.8, "title": null}}
                 }}
              ],
              "resolve": {"axis": {"x": "independent", "y": "independent"}}
            },
            {
              "width": 154, "height": 155, "data": {"name": "W2"},
              "layer": [
                {"mark": {"type": "bar", "binSpacing": 0, "fillOpacity": 0.75, "stroke": "black", "strokeOpacity": 0.25, "strokeWidth": 0.6},
                 "encoding": {
                   "x": {"field": "e", "type": "quantitative", "bin": {"binned": true, "step": 0.04}, "scale": {"domain": [-1.1, 1.1], "nice": false, "zero": false}, "axis": {"orient": "bottom", "values": [-1, 0, 1], "labels": false, "title": null}},
                   "y": {"field": "d", "type": "quantitative", "stack": null, "scale": {"domain": [0, 1.96], "nice": false, "zero": false}, "axis": {"orient": "left", "values": [0, 0.5, 1, 1.5], "format": ".1f", "title": null}},
                   "color": {"field": "l", "type": "nominal", "title": "Labels", "scale": {"domain": ["Spheroid", "Disk"], "range": ["#ff0000", "#0000ff"]}}
                 }},
                {"mark": {"type": "point", "opacity": 0},
                 "encoding": {
                   "x": {"field": "e", "type": "quantitative", "scale": {"domain": [-1.1, 1.1], "nice": false, "zero": false}, "axis": {"orient": "bottom", "values": [-1,-0.9,-0.8,-0.7,-0.6,-0.5,-0.4,-0.3,-0.2,-0.1,0,0.1,0.2,0.3,0.4,0.5,0.6,0.7,0.8,0.9,1], "labels": false, "title": null, "tickSize": 2.8, "tickWidth": 0.8}},
                   "y": {"field": "d", "type": "quantitative", "scale": {"domain": [0, 1.96], "nice": false, "zero": false}, "axis": {"orient": "left", "values": [0,0.1,0.2,0.3,0.4,0.5,0.6,0.7,0.8,0.9,1,1.1,1.2,1.3,1.4,1.5,1.6,1.7,1.8,1.9], "labels": false, "tickSize": 2.8, "tickWidth": 0.8, "title": null}}
                 }}
              ],
              "resolve": {"axis": {"x": "independent", "y": "independent"}}
            },
            {
              "width": 154, "height": 155, "data": {"name": "W3"},
              "layer": [
                {"mark": {"type": "bar", "binSpacing": 0, "fillOpacity": 0.75, "stroke": "black", "strokeOpacity": 0.25, "strokeWidth": 0.6},
                 "encoding": {
                   "x": {"field": "e", "type": "quantitative", "bin": {"binned": true, "step": 0.04}, "scale": {"domain": [-1.1, 1.1], "nice": false, "zero": false}, "axis": {"orient": "bottom", "values": [-1, 0, 1], "labelExpr": "replace(format(datum.value, 'd'), '-', '−')", "title": "eps", "titlePadding": 2}},
                   "y": {"field": "d", "type": "quantitative", "stack": null, "scale": {"domain": [0, 2.125], "nice": false, "zero": false}, "axis": {"orient": "left", "values": [0, 0.5, 1, 1.5, 2], "format": ".1f", "title": null}},
                   "color": {"field": "l", "type": "nominal", "title": "Labels", "scale": {"domain": ["Spheroid", "Disk"], "range": ["#ff0000", "#0000ff"]}}
                 }},
                {"mark": {"type": "point", "opacity": 0},
                 "encoding": {
                   "x": {"field": "e", "type": "quantitative", "scale": {"domain": [-1.1, 1.1], "nice": false, "zero": false}, "axis": {"orient": "bottom", "values": [-1,-0.9,-0.8,-0.7,-0.6,-0.5,-0.4,-0.3,-0.2,-0.1,0,0.1,0.2,0.3,0.4,0.5,0.6,0.7,0.8,0.9,1], "labels": false, "title": null, "tickSize": 2.8, "tickWidth": 0.8}},
                   "y": {"field": "d", "type": "quantitative", "scale": {"domain": [0, 2.125], "nice": false, "zero": false}, "axis": {"orient": "left", "values": [0,0.1,0.2,0.3,0.4,0.5,0.6,0.7,0.8,0.9,1,1.1,1.2,1.3,1.4,1.5,1.6,1.7,1.8,1.9,2,2.1], "labels": false, "tickSize": 2.8, "tickWidth": 0.8, "title": null}}
                 }}
              ],
              "resolve": {"axis": {"x": "independent", "y": "independent"}}
            }
          ]
        }
      ]
    },
    {
      "spacing": 12,
      "hconcat": [
        {
          "width": 1, "height": 487,
          "view": {"stroke": null},
          "data": {"values": [{"s": 1}]},
          "mark": {"type": "rule", "strokeWidth": 2, "color": "black"},
          "encoding": {
            "x": {"datum": 0, "type": "quantitative", "scale": {"domain": [0, 1]}, "axis": null},
            "y": {"datum": -1.85, "type": "quantitative", "scale": {"domain": [0, 100], "nice": false, "zero": false}, "axis": null},
            "y2": {"datum": 102.05}
          }
        },
        {
          "spacing": 4,
          "vconcat": [
            {
              "width": 147, "height": 159, "data": {"name": "X1"},
              "title": {"text": "Ward", "font": "Liberation Sans", "fontSize": 20, "fontWeight": "normal", "color": "black", "offset": 12, "anchor": "middle", "frame": "group"},
              "layer": [
                {"mark": {"type": "bar", "fillOpacity": 0.75, "strokeWidth": 0},
                 "encoding": {
                   "x": {"field": "a", "type": "quantitative", "scale": {"domain": [-20, 20], "nice": false, "zero": false}, "axis": {"orient": "bottom", "values": [-20, 0, 20], "labels": false, "title": null}},
                   "x2": {"field": "b"},
                   "y": {"field": "d", "type": "quantitative", "stack": null, "scale": {"domain": [0, 0.1223], "nice": false, "zero": false}, "axis": {"orient": "left", "values": [0, 0.025, 0.05, 0.075, 0.1], "format": ".3f", "title": null}},
                   "y2": {"datum": 0},
                   "color": {"field": "l", "type": "nominal", "title": "Labels", "scale": {"domain": ["Spheroid", "Disk"], "range": ["#ff0000", "#0000ff"]}}
                 }},
                {"mark": {"type": "point", "opacity": 0},
                 "encoding": {
                   "x": {"field": "a", "type": "quantitative", "scale": {"domain": [-20, 20], "nice": false, "zero": false}, "axis": {"orient": "bottom", "values": [-20,-18,-16,-14,-12,-10,-8,-6,-4,-2,0,2,4,6,8,10,12,14,16,18,20], "labels": false, "title": null, "tickSize": 2.8, "tickWidth": 0.8}},
                   "y": {"field": "d", "type": "quantitative", "scale": {"domain": [0, 0.1223], "nice": false, "zero": false}, "axis": {"orient": "left", "values": [0,0.005,0.01,0.015,0.02,0.025,0.03,0.035,0.04,0.045,0.05,0.055,0.06,0.065,0.07,0.075,0.08,0.085,0.09,0.095,0.1,0.105,0.11,0.115,0.12], "labels": false, "tickSize": 2.8, "tickWidth": 0.8, "title": null}}
                 }}
              ],
              "resolve": {"axis": {"x": "independent", "y": "independent"}}
            },
            {
              "width": 147, "height": 155, "data": {"name": "X2"},
              "layer": [
                {"mark": {"type": "bar", "fillOpacity": 0.75, "strokeWidth": 0},
                 "encoding": {
                   "x": {"field": "a", "type": "quantitative", "scale": {"domain": [-20, 20], "nice": false, "zero": false}, "axis": {"orient": "bottom", "values": [-20, 0, 20], "labels": false, "title": null}},
                   "x2": {"field": "b"},
                   "y": {"field": "d", "type": "quantitative", "stack": null, "scale": {"domain": [0, 0.1805], "nice": false, "zero": false}, "axis": {"orient": "left", "values": [0, 0.05, 0.1, 0.15], "format": ".2f", "title": null}},
                   "y2": {"datum": 0},
                   "color": {"field": "l", "type": "nominal", "title": "Labels", "scale": {"domain": ["Spheroid", "Disk"], "range": ["#ff0000", "#0000ff"]}}
                 }},
                {"mark": {"type": "point", "opacity": 0},
                 "encoding": {
                   "x": {"field": "a", "type": "quantitative", "scale": {"domain": [-20, 20], "nice": false, "zero": false}, "axis": {"orient": "bottom", "values": [-20,-18,-16,-14,-12,-10,-8,-6,-4,-2,0,2,4,6,8,10,12,14,16,18,20], "labels": false, "title": null, "tickSize": 2.8, "tickWidth": 0.8}},
                   "y": {"field": "d", "type": "quantitative", "scale": {"domain": [0, 0.1805], "nice": false, "zero": false}, "axis": {"orient": "left", "values": [0,0.01,0.02,0.03,0.04,0.05,0.06,0.07,0.08,0.09,0.1,0.11,0.12,0.13,0.14,0.15,0.16,0.17,0.18], "labels": false, "tickSize": 2.8, "tickWidth": 0.8, "title": null}}
                 }}
              ],
              "resolve": {"axis": {"x": "independent", "y": "independent"}}
            },
            {
              "width": 147, "height": 155, "data": {"name": "X3"},
              "layer": [
                {"mark": {"type": "bar", "fillOpacity": 0.75, "strokeWidth": 0},
                 "encoding": {
                   "x": {"field": "a", "type": "quantitative", "scale": {"domain": [-20, 20], "nice": false, "zero": false}, "axis": {"orient": "bottom", "values": [-20, 0, 20], "labelExpr": "replace(format(datum.value, 'd'), '-', '−')", "title": "x [kpc]", "titlePadding": 2}},
                   "x2": {"field": "b"},
                   "y": {"field": "d", "type": "quantitative", "stack": null, "scale": {"domain": [0, 0.1151], "nice": false, "zero": false}, "axis": {"orient": "left", "values": [0, 0.025, 0.05, 0.075, 0.1], "format": ".3f", "title": null}},
                   "y2": {"datum": 0},
                   "color": {"field": "l", "type": "nominal", "title": "Labels", "scale": {"domain": ["Spheroid", "Disk"], "range": ["#ff0000", "#0000ff"]}}
                 }},
                {"mark": {"type": "point", "opacity": 0},
                 "encoding": {
                   "x": {"field": "a", "type": "quantitative", "scale": {"domain": [-20, 20], "nice": false, "zero": false}, "axis": {"orient": "bottom", "values": [-20,-18,-16,-14,-12,-10,-8,-6,-4,-2,0,2,4,6,8,10,12,14,16,18,20], "labels": false, "title": null, "tickSize": 2.8, "tickWidth": 0.8}},
                   "y": {"field": "d", "type": "quantitative", "scale": {"domain": [0, 0.1151], "nice": false, "zero": false}, "axis": {"orient": "left", "values": [0,0.005,0.01,0.015,0.02,0.025,0.03,0.035,0.04,0.045,0.05,0.055,0.06,0.065,0.07,0.075,0.08,0.085,0.09,0.095,0.1,0.105,0.11,0.115], "labels": false, "tickSize": 2.8, "tickWidth": 0.8, "title": null}}
                 }}
              ],
              "resolve": {"axis": {"x": "independent", "y": "independent"}}
            }
          ]
        }
      ]
    }
  ]
}
